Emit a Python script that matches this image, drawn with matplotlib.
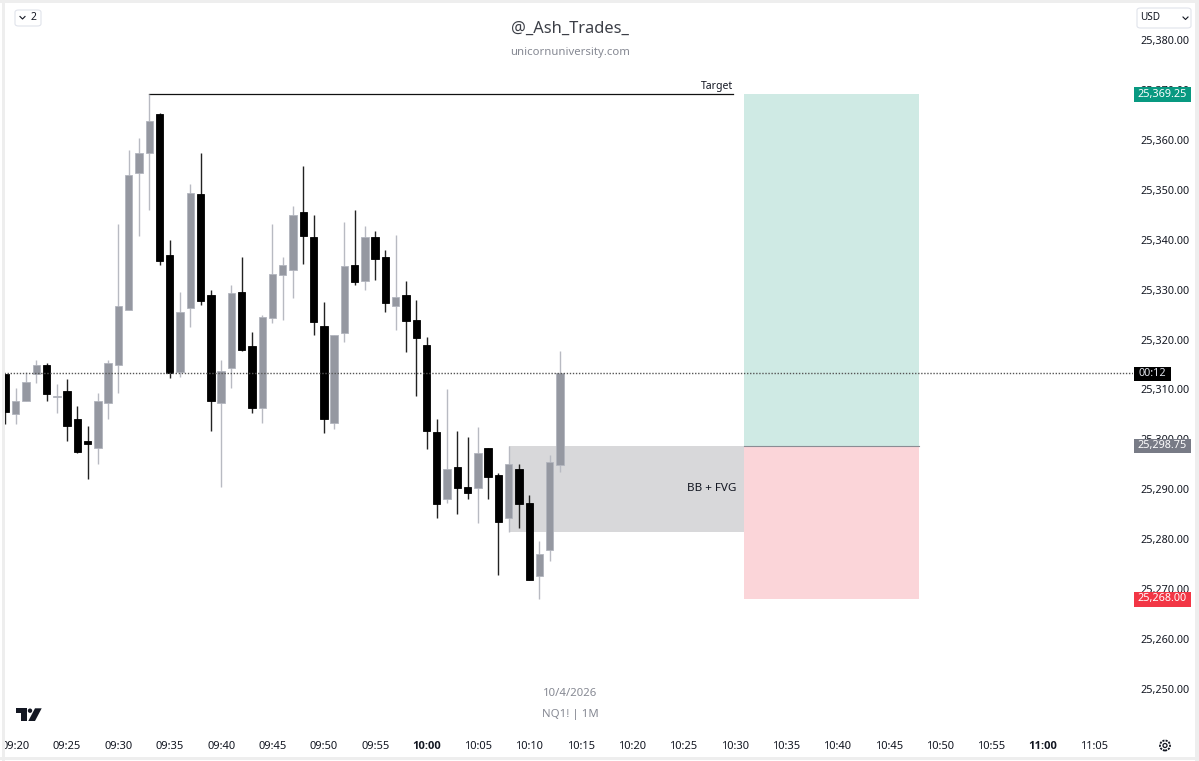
import numpy as np
import matplotlib
matplotlib.use('Agg')
import matplotlib.pyplot as plt
import matplotlib.patches as patches

W, H = 1199, 761
FONT = 'Noto Sans'

# NQ1! 1 minute candles, first bar 09:19, prices relative to 25000
first_minute = 9 * 60 + 19
base = 25000
opens = base + np.array([
    313.0, 305.0, 307.75, 313.0, 315.0, 308.5, 309.75, 304.0, 299.75, 298.25, 307.25,
    315.0, 326.0, 353.5, 357.5, 365.25, 337.0, 313.5, 326.25, 349.25, 329.0, 307.25,
    314.25, 329.5, 318.75, 306.25, 324.25, 333.0, 334.0, 345.5, 340.5, 322.75, 303.25,
    321.25, 335.0, 331.75, 340.5, 336.5, 326.75, 329.0, 324.0, 319.0, 301.5, 288.0,
    294.5, 290.5, 290.25, 298.25, 292.75, 284.25, 294.0, 287.25, 272.5, 277.75, 294.75])
highs = base + np.array([
    313.0, 310.25, 313.5, 316.0, 315.25, 311.0, 312.0, 306.75, 302.75, 309.25, 316.0,
    343.25, 358.0, 360.5, 369.25, 365.5, 340.0, 329.5, 351.25, 357.5, 330.0, 316.0,
    331.0, 336.5, 321.5, 325.0, 343.25, 336.5, 346.75, 354.75, 345.0, 327.5, 321.0,
    343.5, 346.0, 342.75, 341.75, 338.0, 341.0, 331.75, 328.0, 320.5, 304.0, 310.0,
    301.75, 300.5, 302.5, 298.25, 293.25, 298.75, 295.0, 288.75, 279.5, 296.75, 317.75])
lows = base + np.array([
    303.0, 303.0, 307.75, 311.25, 307.75, 305.25, 299.75, 297.25, 292.0, 295.0, 304.0,
    309.25, 326.0, 340.75, 346.0, 335.0, 312.25, 312.5, 322.5, 327.0, 301.75, 290.5,
    310.25, 317.75, 305.25, 303.25, 323.25, 324.0, 328.25, 335.25, 321.0, 301.25, 302.0,
    319.5, 331.0, 330.0, 332.0, 325.5, 322.0, 317.5, 308.75, 298.0, 284.25, 287.25,
    285.0, 288.0, 283.25, 288.0, 272.75, 281.5, 282.25, 271.75, 268.0, 275.5, 293.5])
closes = base + np.array([
    305.5, 307.75, 311.5, 315.0, 309.0, 308.75, 302.75, 297.5, 299.0, 307.75, 315.25,
    326.75, 353.0, 357.5, 363.75, 335.75, 313.25, 325.5, 349.5, 327.75, 307.75, 313.75,
    329.25, 318.0, 306.25, 324.5, 333.25, 335.0, 345.0, 340.75, 323.5, 304.0, 321.0,
    334.75, 331.5, 340.5, 336.25, 327.25, 328.5, 323.75, 320.25, 301.75, 287.0, 294.0,
    290.25, 289.25, 297.25, 292.5, 283.5, 295.0, 287.0, 271.75, 277.0, 295.5, 313.25])

price_ticks = list(range(25250, 25381, 10))
time_ticks = list(range(9 * 60 + 20, 11 * 60 + 6, 5))

target_price = 25369.25
entry_price = 25298.75
stop_price = 25268.0
last_price = 25313.25
zone_low = 25281.5

# minutes of the drawings
target_start, target_end = 9 * 60 + 33, 10 * 60 + 29.85
zone_start, position_start, position_end = 10 * 60 + 8, 10 * 60 + 30.9, 10 * 60 + 48


def rect_px(fig, x0, y0, x1, y1, **kw):
    # rectangle in image pixels, y going down
    r = patches.Rectangle((x0 / W, 1 - y1 / H), (x1 - x0) / W, (y1 - y0) / H,
                          transform=fig.transFigure, **kw)
    fig.add_artist(r)
    return r


def poly_px(fig, pts, **kw):
    p = patches.Polygon([(x / W, 1 - y / H) for x, y in pts], closed=True,
                        transform=fig.transFigure, **kw)
    fig.add_artist(p)


def line_px(fig, xs, ys, **kw):
    fig.add_artist(plt.Line2D([x / W for x in xs], [1 - y / H for y in ys],
                              transform=fig.transFigure, **kw))


def text_px(fig, x, y, s, **kw):
    kw.setdefault('family', FONT)
    kw.setdefault('va', 'center')
    kw.setdefault('zorder', 8)
    return fig.text(x / W, 1 - y / H, s, **kw)


fig = plt.figure(figsize=(W / 100, H / 100), dpi=100, facecolor='white')
ax = fig.add_axes([4 / W, 1 - 735 / H, 1129 / W, 732 / H])
for s in ax.spines.values():
    s.set_visible(False)

ax.set_xlim(first_minute - 0.146, first_minute + 109.8)
ax.set_ylim(25240.68, 25387.52)

# drawings under the candles
ax.add_patch(patches.Rectangle((zone_start, zone_low), position_start - zone_start,
                               entry_price - zone_low, color='#d8d8da', lw=0, zorder=1))
ax.add_patch(patches.Rectangle((position_start, entry_price), position_end - position_start,
                               target_price - entry_price, color='#cfeae4', lw=0, zorder=1))
ax.add_patch(patches.Rectangle((position_start, stop_price), position_end - position_start,
                               entry_price - stop_price, color='#fbd5d9', lw=0, zorder=1))
ax.plot([position_start, position_end], [entry_price, entry_price], color='#8a8d94', lw=0.8, zorder=2)
ax.plot([target_start, target_end], [target_price, target_price], color='#111111', lw=0.9, zorder=2)

# candles
minutes = first_minute + np.arange(len(opens))
up = closes >= opens
ax.vlines(minutes[up], lows[up], highs[up], color='#b8bac2', lw=1.0, zorder=3)
ax.vlines(minutes[~up], lows[~up], highs[~up], color='#222222', lw=1.0, zorder=3)
ax.bar(minutes[up], (closes - opens)[up], bottom=opens[up], width=0.72, color='#9598a1',
       edgecolor='#b2b5be', lw=0.6, zorder=4)
ax.bar(minutes[~up], (closes - opens)[~up], bottom=opens[~up], width=0.72, color='#000000',
       edgecolor='#000000', lw=0.6, zorder=4)

ax.axhline(last_price, color='#555555', lw=1.0, ls=(0, (1, 1.2)), zorder=5)

# axes
ax.yaxis.tick_right()
ax.set_yticks(price_ticks)
ax.set_yticklabels([f'{p:,.2f}' for p in price_ticks], family=FONT, fontsize=7.8, color='#131722')
ax.set_xticks(time_ticks)
ax.set_xticklabels([f'{t // 60:02d}:{t % 60:02d}' for t in time_ticks], family=FONT, fontsize=8, color='#131722')
for t, lab in zip(time_ticks, ax.get_xticklabels()):
    if t % 60 == 0:
        # hour marks are bold, Noto Sans here has no bold face
        lab.set_family('Open Sans')
        lab.set_fontweight('bold')
ax.tick_params(axis='y', length=0, pad=5.4)
ax.tick_params(axis='x', length=0, pad=4.2)

# annotations on the chart
ax.text(target_end, target_price + 1.6, 'Target', ha='right', va='center', family=FONT, fontsize=7.5, color='#131722', zorder=6)
ax.text(position_start - 0.7, (entry_price + zone_low) / 2, 'BB + FVG', ha='right', va='center', family=FONT, fontsize=8.4, color='#131722', zorder=6)

# watermark
text_px(fig, 570, 28.5, '@_Ash_Trades_', ha='center', fontsize=11.8, color='#3c3f47')
text_px(fig, 570, 52, 'unicornuniversity.com', ha='center', fontsize=8.2, color='#868993')
text_px(fig, 570, 693.5, '10/4/2026', ha='center', fontsize=8.2, color='#868993')
text_px(fig, 570, 714.5, 'NQ1! | 1M', ha='center', fontsize=8.2, color='#868993')

# price tags
rect_px(fig, 1134, 87, 1191, 102, color='#089981', lw=0, zorder=7)
text_px(fig, 1162.5, 94, f'{target_price:,.2f}', ha='center', fontsize=7.8, color='white')
rect_px(fig, 1134, 367, 1171, 381, color='#000000', lw=0, zorder=7)
text_px(fig, 1152.5, 373.5, '00:12', ha='center', fontsize=7.8, color='#e0e3eb')
rect_px(fig, 1134, 439, 1191, 453, color='#787b86', lw=0, zorder=7)
text_px(fig, 1162.5, 445.5, f'{entry_price:,.2f}', ha='center', fontsize=7.8, color='white')
rect_px(fig, 1134, 592, 1191, 607, color='#f23645', lw=0, zorder=7)
text_px(fig, 1162.5, 599, f'{stop_price:,.2f}', ha='center', fontsize=7.8, color='white')

# USD box and interval button
for x0, y0, x1, y1 in [(1137, 8, 1191, 28), (15, 10, 41, 26)]:
    fig.add_artist(patches.FancyBboxPatch((x0 / W, 1 - y1 / H), (x1 - x0) / W, (y1 - y0) / H,
                   boxstyle='round,pad=0,rounding_size=0.003', transform=fig.transFigure,
                   facecolor='white', edgecolor='#e0e3eb', lw=0.8, zorder=7))
text_px(fig, 1140, 18, 'USD', fontsize=7.2, color='#131722')
line_px(fig, [1183, 1185.5, 1188], [17, 19.5, 17], color='#131722', lw=0.8, zorder=8)
line_px(fig, [20, 22.5, 25], [16.5, 19, 16.5], color='#131722', lw=0.8, zorder=8)
text_px(fig, 30.5, 18, '2', fontsize=7.5, color='#131722')

# tradingview logo
logo = {'color': '#131722', 'lw': 0, 'zorder': 8}
poly_px(fig, [(15.7, 708.3), (26.7, 708.3), (26.7, 721), (20.7, 721), (20.7, 713), (15.7, 713)], **logo)
poly_px(fig, [(35, 708.3), (41.7, 708.3), (35, 721), (28.3, 721)], **logo)
fig.add_artist(patches.Ellipse((30 / W, 1 - 710.7 / H), 4.4 / W, 4.4 / H, transform=fig.transFigure, **logo))

# settings gear
fig.add_artist(patches.Ellipse((1165 / W, 1 - 745.5 / H), 10 / W, 10 / H, transform=fig.transFigure,
                               facecolor='none', edgecolor='#131722', lw=1.3, ls=(0, (1.2, 0.6)), zorder=8))
fig.add_artist(patches.Ellipse((1165 / W, 1 - 745.5 / H), 4 / W, 4 / H, transform=fig.transFigure,
                               facecolor='none', edgecolor='#131722', lw=0.9, zorder=8))

# screenshot frame
frame = {'color': '#eeeeee', 'lw': 0, 'zorder': 9}
rect_px(fig, 2, 0, 5, 761, **frame)
rect_px(fig, 0, 0, 1199, 3, **frame)
rect_px(fig, 1195, 0, 1199, 761, **frame)
rect_px(fig, 0, 757, 1199, 760, **frame)

fig.savefig('out.png', dpi=100)
